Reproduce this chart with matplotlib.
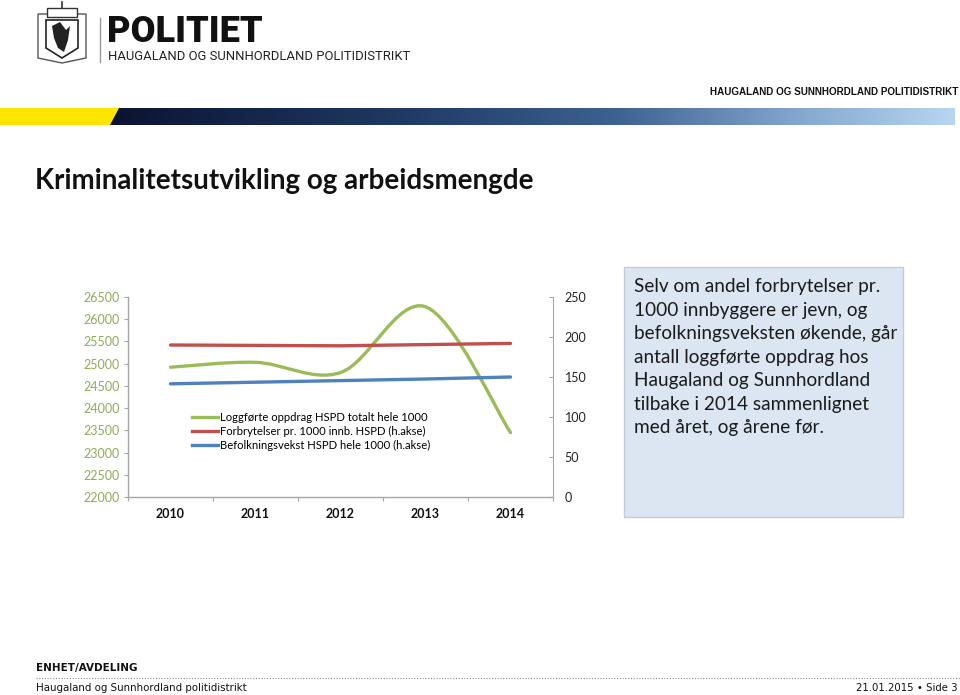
import matplotlib
matplotlib.use("Agg")
import matplotlib.pyplot as plt
from matplotlib.path import Path
from matplotlib.patches import PathPatch, Rectangle, Polygon
from matplotlib.lines import Line2D
from matplotlib.colors import LinearSegmentedColormap
import numpy as np

# data
years = ["2010", "2011", "2012", "2013", "2014"]
oppdrag = [24920, 25030, 24800, 26280, 23450]        # left axis
forbrytelser = [190, 189.5, 189, 190.5, 192]          # right axis
befolkning = [141.5, 143.5, 145.5, 147.5, 150]        # right axis
series_labels = [
    "Loggførte oppdrag HSPD totalt hele 1000",
    "Forbrytelser pr. 1000 innb. HSPD (h.akse)",
    "Befolkningsvekst HSPD hele 1000 (h.akse)",
]
left_ticks = list(range(22000, 26501, 500))
right_ticks = [0, 50, 100, 150, 200, 250]

note = ("Selv om andel forbrytelser pr.\n"
        "1000 innbyggere er jevn, og\n"
        "befolkningsveksten økende, går\n"
        "antall loggførte oppdrag hos\n"
        "Haugaland og Sunnhordland\n"
        "tilbake i 2014 sammenlignet\n"
        "med året, og årene før.")

GREEN = "#9bbb59"
RED = "#c0504d"
BLUE = "#4f81bd"
GRID = "#a6a6a6"

W, H = 960, 695
fig = plt.figure(figsize=(W / 100, H / 100), dpi=100)


def box(x0, y0, x1, y1):
    return [x0 / W, 1 - y1 / H, (x1 - x0) / W, (y1 - y0) / H]


# slide background layer in pixel coordinates
bg = fig.add_axes([0, 0, 1, 1], zorder=0)
bg.axis("off")

# header band
band = LinearSegmentedColormap.from_list(
    "band", [(0.0, "#0b1431"), (0.35, "#1f3a64"), (0.6, "#3d6290"),
             (0.82, "#86a8cf"), (1.0, "#b7d5ef")])
im = bg.imshow(np.linspace(0, 1, 512).reshape(1, -1), cmap=band,
               extent=(108, 955, 125, 108), aspect="auto")
clip = Polygon([(118, 108), (955, 108), (955, 125), (108, 125)],
               facecolor="none", edgecolor="none")
bg.add_patch(clip)
im.set_clip_path(clip)
bg.add_patch(Polygon([(0, 108), (119, 108), (110, 125), (0, 125)],
                     facecolor="#ffe500", edgecolor="none"))

# rough coat of arms
bg.add_patch(Polygon([(38, 14), (86, 14), (86, 58), (62, 63), (38, 58)],
                     facecolor="white", edgecolor="#555555", lw=1))
bg.add_patch(Polygon([(46, 20), (78, 20), (78, 48), (62, 58), (46, 48)],
                     facecolor="white", edgecolor="#222222", lw=1.2))
bg.add_patch(Polygon([(52, 26), (60, 22), (66, 30), (70, 26), (68, 40),
                      (64, 52), (58, 48), (54, 38)],
                     facecolor="#222222", edgecolor="none"))
bg.add_patch(Rectangle((47, 8), 30, 9, facecolor="white",
                       edgecolor="#333333", lw=1))
bg.plot([62, 62], [2, 8], color="#333333", lw=1.2)
bg.plot([100, 100], [18, 62], color="#9a9a9a", lw=1)

bg.text(107, 32, "POLITIET", family="Roboto", fontweight="heavy",
        fontsize=26, va="center", ha="left", color="#111111")
bg.text(108, 56, "HAUGALAND OG SUNNHORDLAND POLITIDISTRIKT",
        family="Roboto", fontsize=9.4, va="center", ha="left",
        color="#222222")
bg.text(958, 92, "HAUGALAND OG SUNNHORDLAND POLITIDISTRIKT",
        family="Liberation Sans", fontweight="bold", fontsize=7.1,
        va="center", ha="right", color="#111111")

bg.text(35, 181, "Kriminalitetsutvikling og arbeidsmengde",
        family="Lato", fontweight="bold", fontsize=20,
        va="center", ha="left", color="#111111")

# comment box
bg.add_patch(Rectangle((624, 267), 279, 250, facecolor="#dce6f2",
                       edgecolor="#c3ccd6", lw=1))
bg.text(634, 278, note, family="Lato", fontsize=13.7, linespacing=1.47,
        va="top", ha="left", color="#1a1a1a")

# footer
bg.text(36, 668, "ENHET/AVDELING", family="DejaVu Sans",
        fontweight="bold", fontsize=7.5, va="center", ha="left",
        color="#111111")
bg.plot([36, 960], [678, 678], color="#8a8a8a", lw=0.8, ls=(0, (1, 1.5)))
bg.text(36, 688, "Haugaland og Sunnhordland politidistrikt",
        family="DejaVu Sans", fontsize=7.4, va="center", ha="left",
        color="#111111")
bg.text(958, 688, "21.01.2015 \u2022 Side 3", family="DejaVu Sans",
        fontsize=7.3, va="center", ha="right", color="#111111")

bg.set_xlim(0, W)
bg.set_ylim(H, 0)

# chart
ax = fig.add_axes(box(128, 297, 553, 497), zorder=2)
ax.patch.set_alpha(0)
x = np.arange(len(years))
ax.set_xlim(-0.5, len(years) - 0.5)
ax.set_ylim(left_ticks[0], left_ticks[-1])

# smoothed line (Excel style bezier through the points)
n = len(oppdrag)
verts = [(x[0], oppdrag[0])]
codes = [Path.MOVETO]
for i in range(n - 1):
    pp = (x[i - 1], oppdrag[i - 1]) if i > 0 else (x[i], oppdrag[i])
    p0 = (x[i], oppdrag[i])
    p1 = (x[i + 1], oppdrag[i + 1])
    pn = (x[i + 2], oppdrag[i + 2]) if i + 2 < n else p1
    c1 = (p0[0] + (p1[0] - pp[0]) / 6, p0[1] + (p1[1] - pp[1]) / 6)
    c2 = (p1[0] - (pn[0] - p0[0]) / 6, p1[1] - (pn[1] - p0[1]) / 6)
    verts += [c1, c2, p1]
    codes += [Path.CURVE4] * 3
ax.add_patch(PathPatch(Path(verts, codes), facecolor="none",
                       edgecolor=GREEN, lw=2.4, capstyle="round"))

ax.set_yticks(left_ticks)
ax.set_yticklabels([str(t) for t in left_ticks])
ax.set_xticks(np.arange(-0.5, len(years), 1))
ax.set_xticklabels([])
ax.set_xticks(x, minor=True)
ax.set_xticklabels(years, minor=True, family="Lato", fontweight="bold",
                   fontsize=9)
ax.tick_params(axis="x", which="major", direction="out", length=3,
               color=GRID)
ax.tick_params(axis="x", which="minor", length=0, pad=8, labelcolor="#111111")
ax.tick_params(axis="y", direction="out", length=3, color=GRID, pad=3,
               labelsize=9, labelcolor="#8faa58")
for lab in ax.get_yticklabels():
    lab.set_family("Lato")
for s in ["top", "right"]:
    ax.spines[s].set_visible(False)
for s in ["left", "bottom"]:
    ax.spines[s].set_color(GRID)
    ax.spines[s].set_linewidth(1)

ax2 = ax.twinx()
ax2.set_ylim(right_ticks[0], right_ticks[-1])
ax2.plot(x, forbrytelser, color=RED, lw=2.4, solid_capstyle="round")
ax2.plot(x, befolkning, color=BLUE, lw=2.4, solid_capstyle="round")
ax2.set_yticks(right_ticks)
ax2.set_yticklabels([str(t) for t in right_ticks])
ax2.tick_params(axis="y", direction="in", length=3, color=GRID, pad=8.5,
                labelsize=9, labelcolor="#222222")
for lab in ax2.get_yticklabels():
    lab.set_family("Lato")
for s in ["top", "left", "bottom"]:
    ax2.spines[s].set_visible(False)
ax2.spines["right"].set_color(GRID)

handles = [Line2D([], [], color=c, lw=2.4) for c in (GREEN, RED, BLUE)]
fig.legend(handles, series_labels, loc="upper left",
           bbox_to_anchor=(192 / W, 1 - 412 / H), frameon=False,
           prop={"family": "Lato", "size": 8.1}, handlelength=2.3,
           handletextpad=0.2, labelspacing=0.25, borderpad=0,
           borderaxespad=0)

fig.savefig("out.png", dpi=100)
